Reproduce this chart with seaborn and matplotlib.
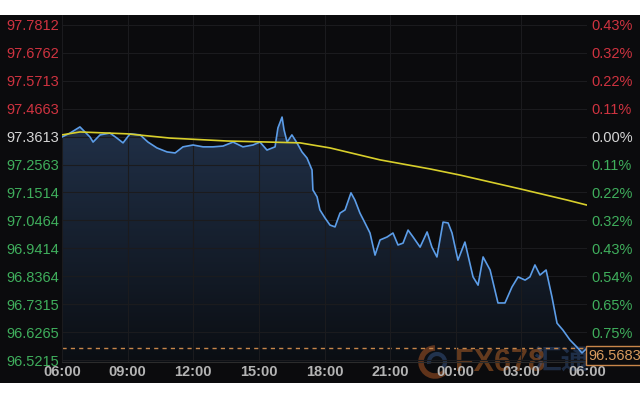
import matplotlib
matplotlib.use("Agg")
import numpy as np
import pandas as pd
import matplotlib.pyplot as plt
import seaborn as sns
from matplotlib.patches import Rectangle, Arc
from matplotlib.colors import LinearSegmentedColormap
from matplotlib.transforms import blended_transform_factory

# hours since 06:00 and dollar index price
hours = [0.00, 0.37, 0.82, 1.28, 1.42, 1.74, 2.19, 2.51, 2.79, 3.11, 3.57, 3.93,
         4.34, 4.80, 5.17, 5.53, 5.99, 6.45, 6.90, 7.36, 7.82, 8.27, 8.73, 9.05,
         9.37, 9.74, 9.87, 10.06, 10.15, 10.29, 10.51, 10.74, 10.97, 11.20, 11.43,
         11.47, 11.66, 11.79, 12.02, 12.25, 12.48, 12.71, 12.94, 13.21, 13.39,
         13.62, 13.85, 14.08, 14.31, 14.54, 14.86, 15.13, 15.36, 15.59, 15.82,
         16.05, 16.37, 16.69, 16.91, 17.14, 17.42, 17.65, 17.83, 18.10, 18.42,
         18.79, 19.02, 19.25, 19.57, 19.93, 20.25, 20.57, 20.85, 21.17, 21.39,
         21.62, 21.85, 22.13, 22.40, 22.63, 22.90, 23.22, 23.54, 23.77, 24.00]
prices = [97.360, 97.375, 97.398, 97.360, 97.341, 97.368, 97.375, 97.356, 97.338,
          97.372, 97.368, 97.341, 97.319, 97.304, 97.300, 97.323, 97.330, 97.323,
          97.323, 97.326, 97.341, 97.323, 97.330, 97.341, 97.311, 97.323, 97.394,
          97.435, 97.387, 97.341, 97.368, 97.338, 97.304, 97.281, 97.236, 97.161,
          97.135, 97.086, 97.056, 97.029, 97.022, 97.074, 97.086, 97.150, 97.123,
          97.074, 97.037, 96.999, 96.916, 96.973, 96.984, 96.999, 96.954, 96.961,
          97.010, 96.984, 96.946, 97.003, 96.946, 96.909, 97.040, 97.037, 96.999,
          96.897, 96.965, 96.834, 96.803, 96.909, 96.860, 96.736, 96.736, 96.796,
          96.834, 96.822, 96.834, 96.879, 96.841, 96.860, 96.758, 96.660, 96.634,
          96.597, 96.570, 96.548, 96.566]

ma_hours = [0.00, 0.82, 2.97, 4.94, 7.54, 10.88, 12.25, 14.54, 16.82, 18.19,
            20.94, 23.09, 24.00]
ma_prices = [97.368, 97.379, 97.372, 97.356, 97.345, 97.338, 97.319, 97.274,
             97.240, 97.217, 97.165, 97.123, 97.104]

y_ticks = [97.7812, 97.6762, 97.5713, 97.4663, 97.3613, 97.2563, 97.1514,
           97.0464, 96.9414, 96.8364, 96.7315, 96.6265, 96.5215]
pct_labels = ["0.43%", "0.32%", "0.22%", "0.11%", "0.00%", "0.11%", "0.22%",
              "0.32%", "0.43%", "0.54%", "0.65%", "0.75%"]
x_ticks = [0, 3, 6, 9, 12, 15, 18, 21, 24]
x_labels = ["06:00", "09:00", "12:00", "15:00", "18:00", "21:00", "00:00",
            "03:00", "06:00"]
base_price = 97.3613
last_price = 96.5683

BG = "#0b0b0d"
RED = "#cf3340"
GREEN = "#3fae5c"
NEUTRAL = "#d6d6d6"

sns.set_style("dark")
plt.rcParams['font.family'] = ['Liberation Sans', 'Noto Sans CJK SC', 'DejaVu Sans']

fig = plt.figure(figsize=(6.4, 4), dpi=100, facecolor="white")
fig.patches.append(Rectangle((0, 17 / 400), 1, 368 / 400, transform=fig.transFigure,
                             facecolor=BG, edgecolor="none", zorder=-5))
ax = fig.add_axes([62 / 640, 38 / 400, 525 / 640, 347 / 400])
ax.set_facecolor("none")
ax.set_axisbelow(False)

ymin, ymax = 96.514, 97.8188
ax.set_xlim(0, 24)
ax.set_ylim(ymin, ymax)

df = pd.DataFrame({"hour": hours, "price": prices})
ma = pd.DataFrame({"hour": ma_hours, "price": ma_prices})

# gradient area under the price line
poly = ax.fill_between(df["hour"], df["price"], ymin, color="none")
grad = np.linspace(0, 1, 256).reshape(-1, 1)
cmap = LinearSegmentedColormap.from_list("fade", ["#0b0e13", "#213149"])
im = ax.imshow(grad, extent=[0, 24, ymin, max(prices)], aspect="auto",
               cmap=cmap, origin="lower", zorder=1)
im.set_clip_path(poly.get_paths()[0], transform=ax.transData)

# watermark: above the fill, under lines and tick labels
for arc in [Arc((435 / 640, 1 - 362 / 400), 28 / 640, 28 / 400, theta1=90, theta2=300,
                color="#c8642a", lw=4, alpha=0.45),
            Arc((437 / 640, 1 - 362 / 400), 16 / 640, 16 / 400, theta1=-60, theta2=200,
                color="#3d5f96", lw=3, alpha=0.45)]:
    arc.set_transform(fig.transFigure)
    arc.set_clip_on(False)
    arc.set_zorder(1.5)
    ax.add_patch(arc)
ax.text(455 / 640, 1 - 363 / 400, "FX678", transform=fig.transFigure, fontsize=22,
        fontweight="bold", color="#d0702c", alpha=0.45, va="center", ha="left",
        zorder=1.5, clip_on=False)
ax.text(533 / 640, 1 - 363 / 400, "汇通", transform=fig.transFigure, fontsize=20,
        fontweight="bold", color="#3d5f96", alpha=0.4, va="center", ha="left",
        zorder=1.5, clip_on=False)

sns.lineplot(data=df, x="hour", y="price", ax=ax, color="#5c9de8", lw=1.2, zorder=3)
sns.lineplot(data=ma, x="hour", y="price", ax=ax, color="#d8cf2b", lw=1.2, zorder=4)

ax.axhline(last_price, color="#c8864a", ls=(0, (3, 3)), lw=1, zorder=2)

ax.grid(True, color="#1b1b1e", lw=0.8)
for s in ax.spines.values():
    s.set_visible(False)
ax.spines["bottom"].set_visible(True)
ax.spines["bottom"].set_color("#2c2c2c")

ax.set_xticks(x_ticks)
ax.set_xticklabels(x_labels, color="#b4b4b4", fontsize=10.5, fontweight="bold")
ax.set_yticks(y_ticks)
ax.set_yticklabels([f"{v:.4f}" for v in y_ticks], fontsize=10.5)
for lab, v in zip(ax.get_yticklabels(), y_ticks):
    lab.set_color(RED if v > base_price + 1e-6 else (NEUTRAL if abs(v - base_price) < 1e-6 else GREEN))
ax.tick_params(axis="both", length=0)
ax.tick_params(axis="x", pad=2)
ax.tick_params(axis="y", pad=2)
ax.set_xlabel("")
ax.set_ylabel("")

ax2 = ax.twinx()
ax2.patch.set_visible(False)
ax2.set_ylim(ymin, ymax)
ax2.set_yticks(y_ticks[:-1])
ax2.set_yticklabels(pct_labels, fontsize=10.5)
for lab, v in zip(ax2.get_yticklabels(), y_ticks[:-1]):
    lab.set_color(RED if v > base_price + 1e-6 else (NEUTRAL if abs(v - base_price) < 1e-6 else GREEN))
ax2.tick_params(axis="y", length=0, pad=3)
for s in ax2.spines.values():
    s.set_visible(False)
ax2.grid(False)

# last price box
tr = blended_transform_factory(ax.transAxes, ax.transData)
ax.text(1.003, last_price - 0.004, f"{last_price:.4f}", transform=tr, ha="left", va="top",
        fontsize=10.5, color="#d89b5e", zorder=6, clip_on=False,
        bbox=dict(boxstyle="square,pad=0.15", fc=BG, ec="#c8864a", lw=1))

fig.savefig("out.png", dpi=100, facecolor="white")
